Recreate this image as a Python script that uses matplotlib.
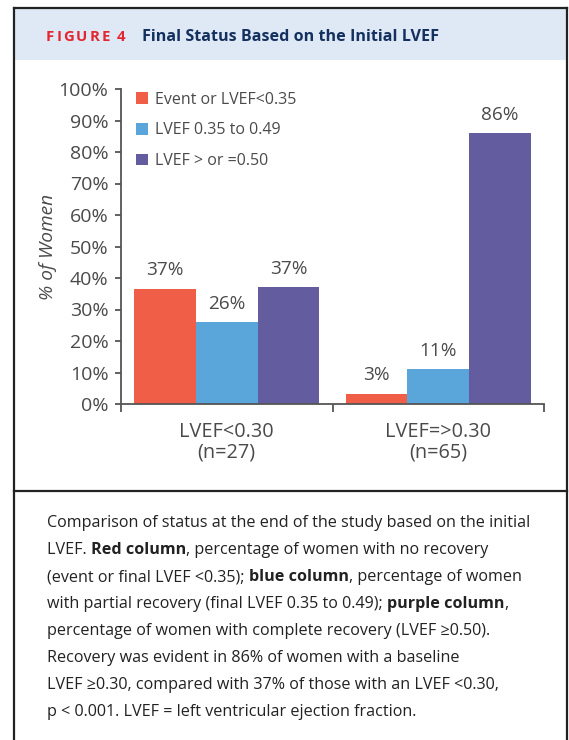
import matplotlib
matplotlib.use("Agg")
import matplotlib.pyplot as plt
from matplotlib.patches import Rectangle
from matplotlib.lines import Line2D

# ---- data ----
categories = ["LVEF<0.30\n(n=27)", "LVEF=>0.30\n(n=65)"]
series_names = ["Event or LVEF<0.35", "LVEF 0.35 to 0.49", "LVEF > or =0.50"]
event_vals = [36.6, 3.2]
partial_vals = [26.0, 11.0]
complete_vals = [37.0, 86.0]
value_labels = [["37%", "3%"], ["26%", "11%"], ["37%", "86%"]]
ytick_vals = [0, 10, 20, 30, 40, 50, 60, 70, 80, 90, 100]
ytick_labels = ["%d%%" % v for v in ytick_vals]

colors = ["#F05E48", "#5AA6DA", "#635C9E"]
gray = "#4A4A4A"
W, H = 569, 740

plt.rcParams['font.family'] = ['Open Sans', 'DejaVu Sans']

fig = plt.figure(figsize=(W / 100, H / 100), dpi=100)

def fx(px):
    return px / W

def fy(py):
    return 1 - py / H

# ---- frame ----
fig.patches.append(Rectangle((fx(14), fy(60)), fx(567) - fx(14), fy(8) - fy(60),
                             transform=fig.transFigure, facecolor="#DEE9F5",
                             edgecolor="none", zorder=0))
frame_kw = dict(transform=fig.transFigure, color="#222222", lw=1.6)
fig.add_artist(Line2D([fx(14), fx(14)], [fy(8), fy(741)], **frame_kw))
fig.add_artist(Line2D([fx(567), fx(567)], [fy(8), fy(741)], **frame_kw))
fig.add_artist(Line2D([fx(14), fx(567)], [fy(8), fy(8)], **frame_kw))
fig.add_artist(Line2D([fx(14), fx(567)], [fy(491), fy(491)], **frame_kw))

renderer = fig.canvas.get_renderer()

def seg_text(x_px, y_px, segments, size, color_default, spacing=0.0):
    x = x_px
    for s, bold, col in segments:
        t = fig.text(fx(x), fy(y_px), s, fontsize=size, fontweight="bold" if bold else "normal",
                     color=col or color_default, ha="left", va="baseline")
        bb = t.get_window_extent(renderer=renderer)
        x += bb.width + spacing
    return x

# header: letter-spaced "FIGURE 4"
hx = 46
for ch in "FIGURE 4":
    if ch == " ":
        hx += 5
        continue
    t = fig.text(fx(hx), fy(41), ch, fontsize=10.8, fontweight="bold", color="#E3262F",
                 ha="left", va="baseline")
    hx += t.get_window_extent(renderer=renderer).width + 2.0
fig.text(fx(142), fy(41), "Final Status Based on the Initial LVEF", fontsize=11.6,
         fontweight="bold", color="#13305F", ha="left", va="baseline")

# ---- axes ----
ax = fig.add_axes([fx(121), fy(404), fx(544) - fx(121), fy(89) - fy(404)])
x = [0, 1]
width = 0.292
allvals = [event_vals, partial_vals, complete_vals]
for i, (vals, col, name) in enumerate(zip(allvals, colors, series_names)):
    offs = [xi + (i - 1) * width for xi in x]
    ax.bar(offs, vals, width=width, color=col, label=name, zorder=2)
    for xo, v, lab in zip(offs, vals, value_labels[i]):
        ax.text(xo, v + 3.0, lab, ha="center", va="bottom", fontsize=13.7, color=gray)

ax.set_xlim(-0.5, 1.5)
ax.set_ylim(0, 100)
ax.set_yticks(ytick_vals)
ax.set_yticklabels(ytick_labels, fontsize=14, color=gray)
ax.set_xticks([-0.5, 0.5, 1.5], minor=False)
ax.set_xticklabels([])
ax.set_xticks(x, minor=True)
ax.set_xticklabels(categories, minor=True, fontsize=14.3, color=gray, linespacing=1.05)
ax.tick_params(axis="x", which="minor", length=0, pad=13)
ax.tick_params(axis="x", which="major", length=6, width=1.3, color="#555555", direction="out")
ax.tick_params(axis="y", length=4.5, width=1.3, color="#555555", pad=4.5)
for s in ["top", "right"]:
    ax.spines[s].set_visible(False)
for s in ["left", "bottom"]:
    ax.spines[s].set_color("#555555")
    ax.spines[s].set_linewidth(1.3)
ax.set_ylabel("% of Women", fontsize=13.8, style="italic", color=gray, labelpad=1.5)

leg = ax.legend(loc="upper left", bbox_to_anchor=(0.02, 1.012), frameon=False,
                fontsize=11.5, labelcolor=gray, handlelength=0.75, handleheight=0.75,
                handletextpad=0.45, labelspacing=0.92, borderaxespad=0)

# ---- caption ----
cap_lines = [
    [("Comparison of status at the end of the study based on the initial", False, None)],
    [("LVEF. ", False, None), ("Red column", True, None), (", percentage of women with no recovery", False, None)],
    [("(event or final LVEF <0.35); ", False, None), ("blue column", True, None), (", percentage of women", False, None)],
    [("with partial recovery (final LVEF 0.35 to 0.49); ", False, None), ("purple column", True, None), (",", False, None)],
    [("percentage of women with complete recovery (LVEF \u22650.50).", False, None)],
    [("Recovery was evident in 86% of women with a baseline", False, None)],
    [("LVEF \u22650.30, compared with 37% of those with an LVEF <0.30,", False, None)],
    [("p < 0.001. LVEF = left ventricular ejection fraction.", False, None)],
]
y0 = 527
for k, segs in enumerate(cap_lines):
    seg_text(47, y0 + k * 27.0, segs, 11.6, "#222222")

fig.savefig("out.png", dpi=100)
